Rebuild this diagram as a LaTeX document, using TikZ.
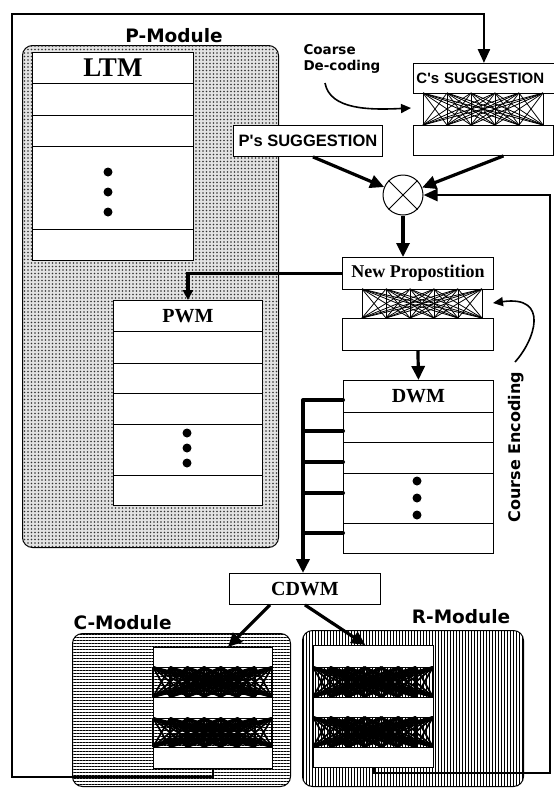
\documentclass[tikz,border=0pt]{standalone}
\usepackage{fontspec}
\setmainfont{Liberation Serif}
\newfontfamily\labfont{DejaVu Sans}
\newfontfamily\sugfont{Liberation Sans}
\usetikzlibrary{arrows.meta,patterns.meta}

% full crossing net between two boxes: x1 x2 ytop ybot n width
\newcommand\netw[6]{%
  \foreach \a in {0,...,#5}{\foreach \b in {0,...,#5}{
    \draw[line width=#6] ({#1+\a*(#2-#1)/#5},#3) -- ({#1+\b*(#2-#1)/#5},#4);}}}

\begin{document}
\begin{tikzpicture}[x=1pt,y=-1pt,
    row/.style n args={2}{draw,fill=white,line width=.9pt,anchor=north west,
      inner sep=0pt,minimum width=#1,minimum height=#2},
    module/.style n args={2}{draw,line width=1pt,rounded corners=10pt,
      anchor=north west,minimum width=#1,minimum height=#2},
    dot/.style={circle,fill,inner sep=0pt,minimum size=9pt},
    head/.style={font=\bfseries\fontsize{20}{20}\selectfont},
    modlabel/.style={font=\labfont\bfseries\fontsize{18.5}{18.5}\selectfont},
    sug/.style={font=\sugfont\bfseries\fontsize{16.5}{16.5}\selectfont},
    conn/.style={line width=3.2pt,-{Triangle[length=14pt,width=13pt]}},
    fb/.style={line width=2.6pt,-{Triangle[length=14pt,width=12pt]}},
    curv/.style={line width=1.6pt,-{Triangle[length=10pt,width=9pt]}},
    bus/.style={line width=4pt,line cap=round}]
 \useasboundingbox (0,0) rectangle (554,788);

 % P-Module
 \node[module={256pt}{502pt},fill=gray!22,
   postaction={pattern={Dots[distance=3.5pt,radius=.8pt]},pattern color=black!80}] (pmod) at (22,45) {};
 \node[modlabel] (plab) at (174,36) {P-Module};

 \node[row={161pt}{31pt},font=\bfseries\fontsize{27}{27}\selectfont] (ltm) at (32,52) {LTM};
 \node[row={161pt}{32pt}] (ltm1) at (32,83) {};
 \node[row={161pt}{31pt}] (ltm2) at (32,115) {};
 \node[row={161pt}{83pt}] (ltm3) at (32,146) {};
 \node[row={161pt}{31pt}] (ltm4) at (32,229) {};
 \foreach \y [count=\i] in {172,192,212} \node[dot] (ltmd\i) at (108,\y) {};

 \node[row={149pt}{31pt},head] (pwm) at (113,300) {PWM};
 \node[row={149pt}{32pt}] (pwm1) at (113,331) {};
 \node[row={149pt}{30pt}] (pwm2) at (113,363) {};
 \node[row={149pt}{31pt}] (pwm3) at (113,393) {};
 \node[row={149pt}{51pt}] (pwm4) at (113,424) {};
 \node[row={149pt}{30pt}] (pwm5) at (113,475) {};
 \foreach \y [count=\i] in {433,448,463} \node[dot] (pwmd\i) at (187,\y) {};

 % suggestions and mixing
 \node[row={147pt}{30pt},sug,font=\sugfont\bfseries\fontsize{15}{15}\selectfont,
   text width=141pt,align=left,inner xsep=3pt] (cs) at (413,63) {C's SUGGESTION};
 \netw{423}{543}{93}{125}{5}{.8pt}
 \draw[line width=.9pt] (423,93) -- (423,125) (543,93) -- (543,125);
 \node[row={140pt}{30pt}] (csl) at (413,125) {};
 \node[row={149pt}{31pt},sug] (ps) at (233,125) {P's SUGGESTION};
 \node[circle,draw,fill=white,line width=1pt,minimum size=40pt,inner sep=0pt] (mix) at (403,195) {};
 \draw[line width=1pt] (mix.north west) -- (mix.south east) (mix.north east) -- (mix.south west);

 \node[row={151pt}{32pt},font=\bfseries\fontsize{18}{18}\selectfont] (np) at (342,257) {New Propostition};
 \netw{362}{482}{289}{318}{5}{.8pt}
 \draw[line width=.9pt] (362,289) -- (362,318) (482,289) -- (482,318);
 \node[row={151pt}{32pt}] (npl) at (342,318) {};

 \node[row={150pt}{32pt},head] (dwm) at (343,380) {DWM};
 \node[row={150pt}{30pt}] (dwm1) at (343,412) {};
 \node[row={150pt}{31pt}] (dwm2) at (343,442) {};
 \node[row={150pt}{50pt}] (dwm3) at (343,473) {};
 \node[row={150pt}{30pt}] (dwm4) at (343,523) {};
 \foreach \y [count=\i] in {481,498,515} \node[dot] (dwmd\i) at (417,\y) {};

 \node[row={151pt}{31pt},head] (cdwm) at (229,573) {CDWM};

 % C-Module and R-Module
 \node[module={218pt}{153pt},fill=white,
   postaction={pattern={Lines[angle=0,distance=3pt,line width=1pt]}}] (cmod) at (72,633) {};
 \node[modlabel,anchor=south west] (clab) at (70,633) {C-Module};
 \node[row={119pt}{20pt}] (c1) at (153,647) {};
 \netw{153}{272}{667}{697}{7}{1.8pt}
 \node[row={119pt}{21pt}] (c2) at (153,697) {};
 \netw{153}{272}{718}{747}{7}{1.8pt}
 \node[row={119pt}{21pt}] (c3) at (153,747) {};

 \node[module={221pt}{156pt},fill=white,
   postaction={pattern={Lines[angle=90,distance=3pt,line width=1pt]}}] (rmod) at (302,630) {};
 \node[modlabel] (rlab) at (461,617) {R-Module};
 \node[row={120pt}{22pt}] (r1) at (313,645) {};
 \netw{313}{433}{667}{697}{7}{1.8pt}
 \node[row={120pt}{20pt}] (r2) at (313,697) {};
 \netw{313}{433}{717}{747}{7}{1.8pt}
 \node[row={120pt}{20pt}] (r3) at (313,747) {};

 % connectors
 \draw[conn] ([xshift=5pt]ps.south) -- (mix);
 \draw[conn] ([xshift=20pt]csl.south) -- (mix);
 \draw[conn] (mix.south) -- (mix.south |- np.north);
 \draw[conn,-{Triangle[length=10pt,width=10pt]}] (np.west) -| (pwm.north);
 \draw[conn] (npl.south) -- (dwm.north);
 \coordinate (bustop) at (303,400);
 \draw[conn,line width=4pt] (bustop) -- (bustop |- cdwm.north);
 \foreach \y/\r [count=\i] in {400/dwm,431/dwm1,462/dwm2,493/dwm3,533/dwm4}{
   \coordinate (s\i) at (303,\y);
   \draw[bus] (s\i) -- (s\i -| \r.west);}
 \draw[conn] ([xshift=-35pt]cdwm.south) -- ([xshift=15pt]c1.north);
 \draw[conn] (cdwm.south) -- ([xshift=-8pt]r1.north);

 % feedback loops
 \coordinate (fbl) at (12,777); \coordinate (fbt) at (12,14);
 \draw[fb] (c3.south) |- (fbl) -- (fbt) -| ([xshift=-3pt]cs.north);
 \coordinate (fbr) at (550,773); \coordinate (fbrt) at (550,195);
 \draw[fb] (r3.south) |- (fbr) -- (fbrt) -- (mix.east);

 % coding notes
 \node[font=\labfont\bfseries\fontsize{13.5}{16}\selectfont,align=left,anchor=north west] (dec) at (300,41) {Coarse\\De-coding};
 \coordinate (decs) at (325,83); \coordinate (dect) at (411,108);
 \draw[curv] (decs) .. controls (330,110) and (370,110) .. (dect);
 \node[font=\labfont\bfseries\fontsize{16}{16}\selectfont,rotate=90] (enc) at (516,447) {Course Encoding};
 \coordinate (encs) at (515,362); \coordinate (enct) at (493,303);
 \draw[curv] (encs) .. controls (535,340) and (550,295) .. (enct);
\end{tikzpicture}
\end{document}
